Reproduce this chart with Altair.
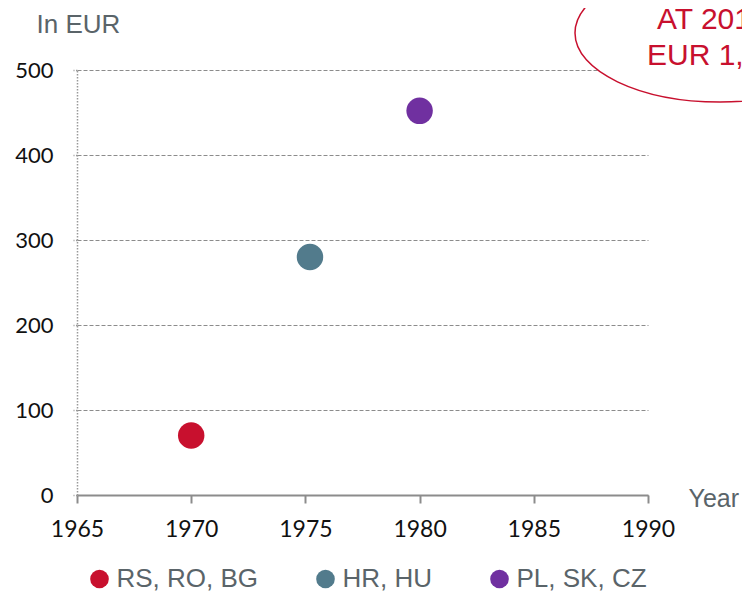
import altair as alt
import pandas as pd

# data
groups = ["RS, RO, BG", "HR, HU", "PL, SK, CZ"]
years = [1970, 1975.2, 1980]
values = [70, 280, 452]
colors = ["#C8102E", "#527B8C", "#7030A0"]
x_ticks = [1965, 1970, 1975, 1980, 1985, 1990]
y_ticks = [0, 100, 200, 300, 400, 500]
note_lines = ["AT 201", "EUR 1,"]

df = pd.DataFrame({"group": groups, "year": years, "value": values})

GRAY_TXT = "#5a6469"
AXIS_GRAY = "#8c8c8c"

x_enc = alt.X(
    "year:Q",
    scale=alt.Scale(domain=[1965, 1990], nice=False, zero=False),
    axis=alt.Axis(
        values=x_ticks, format="d", title="Year", titleAngle=0, titleAlign="left",
        titleBaseline="alphabetic", titleX=611, titleY=11, titleFont="Liberation Sans",
        titleFontSize=25, titleFontWeight="normal", titleColor=GRAY_TXT,
        labelFont="Lato", labelFontSize=23, labelColor="#111111", labelPadding=15,
        tickSize=8, tickColor=AXIS_GRAY, tickWidth=2, domainColor=AXIS_GRAY,
        domainWidth=2, grid=False, labelFlush=False,
    ),
)
y_enc = alt.Y(
    "value:Q",
    scale=alt.Scale(domain=[0, 500], nice=False),
    axis=alt.Axis(
        values=y_ticks, title="In EUR", titleAngle=0, titleAlign="left",
        titleBaseline="alphabetic", titleX=-41, titleY=-38, titleFont="Liberation Sans",
        titleFontSize=26, titleFontWeight="normal", titleColor=GRAY_TXT,
        labelFont="Lato", labelFontSize=22, labelColor="#111111", labelPadding=20,
        tickSize=4, tickColor="#999999", tickWidth=1.5, tickDash=[1.5, 1.5],
        domainColor="#999999", domainWidth=1.5, domainDash=[1.5, 1.5],
        grid=True, gridColor=AXIS_GRAY, gridWidth=1, gridDash=[4, 2],
    ),
)

points = alt.Chart(df).mark_circle(size=700, opacity=1).encode(
    x=x_enc,
    y=y_enc,
    color=alt.Color(
        "group:N",
        scale=alt.Scale(domain=groups, range=colors),
        legend=alt.Legend(
            orient="none", legendX=9.5, legendY=496, direction="horizontal",
            title=None, symbolSize=346, symbolType="circle", labelFont="Liberation Sans",
            labelFontSize=26, labelColor=GRAY_TXT, labelOffset=4, columnPadding=54,
            padding=0, symbolStrokeWidth=0, labelLimit=300,
        ),
    ),
)

# annotation ellipse (partially outside the chart, like the reference)
ellipse = alt.Chart(pd.DataFrame({"k": [0]})).mark_point(
    shape="M -1 0 A 1 0.476 0 1 0 1 0 A 1 0.476 0 1 0 -1 0 Z",
    size=84100, filled=False, fill="white", fillOpacity=1, stroke="#C8102E",
    strokeWidth=1.5, opacity=1,
).encode(x=alt.value(643), y=alt.value(-37))

note1 = alt.Chart(pd.DataFrame({"t": [note_lines[0]]})).mark_text(
    align="left", baseline="alphabetic", font="Liberation Sans", fontSize=30, color="#C8102E"
).encode(text="t:N", x=alt.value(580), y=alt.value(-41))
note2 = alt.Chart(pd.DataFrame({"t": [note_lines[1]]})).mark_text(
    align="left", baseline="alphabetic", font="Liberation Sans", fontSize=30, color="#C8102E"
).encode(text="t:N", x=alt.value(570), y=alt.value(-5))

chart = alt.layer(points, ellipse, note1, note2).properties(
    width=571, height=425,
    autosize=alt.AutoSizeParams(type="none"),
    padding={"left": 69, "top": 62, "right": 94, "bottom": 99},
    background="white",
).configure_view(stroke=None)

chart.save("out.html", embed_options={"renderer": "svg", "actions": False})
